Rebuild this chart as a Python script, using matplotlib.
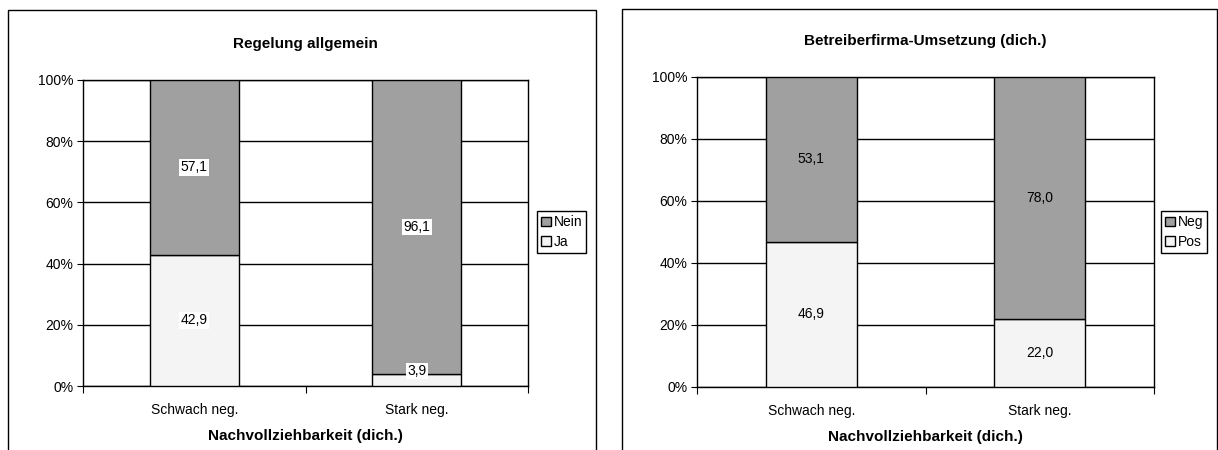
import matplotlib.pyplot as plt
from matplotlib.patches import Rectangle

plt.rcParams['font.family'] = ['Liberation Sans', 'DejaVu Sans']

categories = ['Schwach neg.', 'Stark neg.']
xlabel = 'Nachvollziehbarkeit (dich.)'

left_title = 'Regelung allgemein'
left_bottom = [42.9, 3.9]   # Ja
left_top = [57.1, 96.1]     # Nein
left_names = ['Ja', 'Nein']

right_title = 'Betreiberfirma-Umsetzung (dich.)'
right_bottom = [46.9, 22.0]  # Pos
right_top = [53.1, 78.0]     # Neg
right_names = ['Pos', 'Neg']

W, H = 1218, 450
fig = plt.figure(figsize=(W / 100, H / 100), dpi=100)


def px_axes(x0, y0, x1, y1):
    return fig.add_axes([x0 / W, 1 - y1 / H, (x1 - x0) / W, (y1 - y0) / H])


def draw_panel(ax, title, bottom, top, names, label_box, legend_xy):
    x = range(len(categories))
    b1 = ax.bar(x, bottom, width=0.4, color='#f4f4f4', edgecolor='black',
                linewidth=1, label=names[0], zorder=3)
    b2 = ax.bar(x, top, width=0.4, bottom=bottom, color='#a0a0a0',
                edgecolor='black', linewidth=1, label=names[1], zorder=3)
    for i in x:
        for val, base in ((bottom[i], 0), (top[i], bottom[i])):
            kw = dict(ha='center', va='center', fontsize=10, zorder=4)
            if label_box:
                kw['bbox'] = dict(boxstyle='square,pad=0.1', fc='white', ec='none')
            yy = base + val / 2 if val > 10 else base + val + 1
            ax.text(i, yy, f'{val:.1f}'.replace('.', ','), **kw)
    ax.set_xlim(-0.5, 1.5)
    ax.set_ylim(0, 100)
    ax.set_yticks(range(0, 101, 20))
    ax.set_yticklabels([f'{v}%' for v in range(0, 101, 20)], fontsize=10)
    ax.set_xticks([-0.5, 0.5, 1.5])
    ax.set_xticklabels([])
    ax.set_xticks([0, 1], minor=True)
    ax.set_xticklabels(categories, minor=True, fontsize=10)
    ax.tick_params(axis='x', which='minor', length=0, pad=12)
    ax.tick_params(axis='x', which='major', length=5, direction='out')
    ax.tick_params(axis='y', length=4, direction='out', pad=3)
    ax.yaxis.grid(True, color='black', linewidth=1, zorder=0)
    ax.set_axisbelow(True)
    for s in ax.spines.values():
        s.set_linewidth(1)
    ax.set_title(title, fontsize=11, fontweight='bold', pad=23)
    ax.set_xlabel(xlabel, fontsize=11, fontweight='bold', labelpad=9)
    leg = fig.legend(handles=[b2, b1], loc='center left',
                     bbox_to_anchor=(legend_xy[0] / W, 1 - legend_xy[1] / H),
                     fontsize=10, fancybox=False, edgecolor='black',
                     framealpha=1, handlelength=0.7, handleheight=0.7,
                     handletextpad=0.2, borderpad=0.3, labelspacing=0.4,
                     borderaxespad=0)
    leg.get_frame().set_linewidth(1)


ax1 = px_axes(83, 80, 528, 386)
draw_panel(ax1, left_title, left_bottom, left_top, left_names, True, (537, 232))
ax2 = px_axes(697, 77, 1154, 387)
draw_panel(ax2, right_title, right_bottom, right_top, right_names, False, (1161, 232))

# outer panel borders
for x0, x1, y0 in ((8, 596, 10), (622, 1217, 9)):
    fig.patches.append(Rectangle((x0 / W, -0.1), (x1 - x0) / W, 1.1 - y0 / H,
                                 transform=fig.transFigure, fill=False,
                                 edgecolor='black', linewidth=1))

fig.savefig('out.png', dpi=100)
